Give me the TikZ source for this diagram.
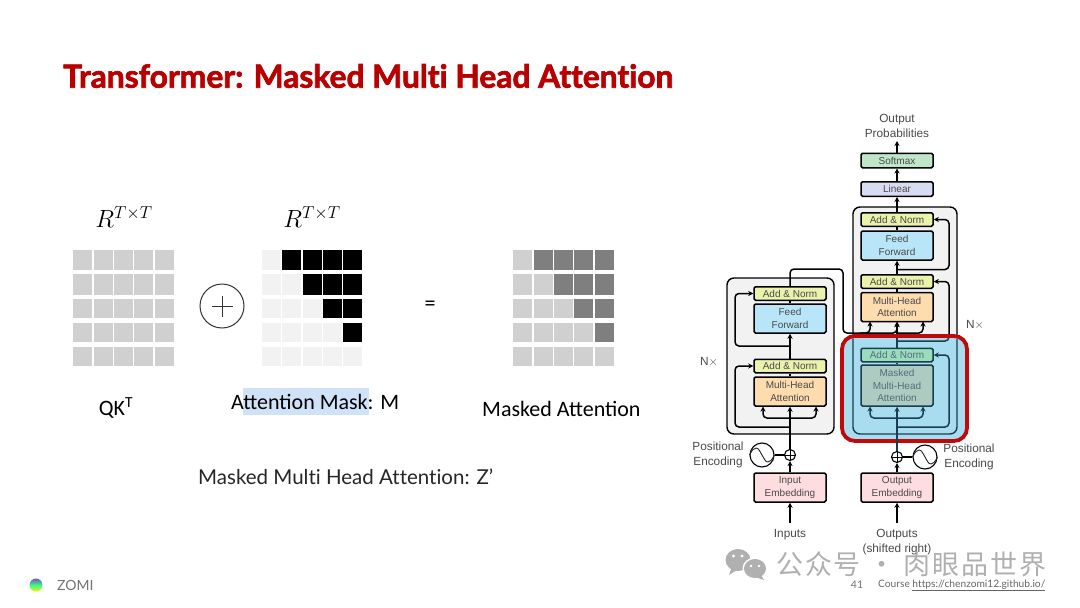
\documentclass[tikz,border=0pt]{standalone}
\usepackage{graphicx}
\usepackage{fontspec}
\setmainfont{Carlito}
\setsansfont{Liberation Sans}
\newfontfamily\titlefont[FakeBold=2.2,Ligatures=NoCommon]{Lato Bold}
\newfontfamily\gillfont[Ligatures=NoCommon]{Lato}
\newfontfamily\cjkfont[LetterSpace=7]{Noto Sans CJK SC}
\usetikzlibrary{arrows.meta,calc}
\definecolor{cellgray}{HTML}{D0D0D0}
\definecolor{celllight}{HTML}{F2F2F2}
\definecolor{celldark}{HTML}{7F7F7F}
\definecolor{titlered}{HTML}{B80000}
\definecolor{boxred}{HTML}{BE0A0A}
\definecolor{bluearea}{HTML}{A8DCEF}
\definecolor{tealine}{HTML}{173F4F}
\definecolor{txtgray}{HTML}{4A4A4A}
\definecolor{addc}{HTML}{EBF2AC}
\definecolor{ffc}{HTML}{B8E6F8}
\definecolor{mhac}{HTML}{FEDCAE}
\definecolor{softc}{HTML}{BFE6C8}
\definecolor{linc}{HTML}{D8DCF2}
\definecolor{embc}{HTML}{FDDDE0}
\definecolor{wm}{HTML}{B0B0B0}
\definecolor{hilite}{HTML}{CFE2F7}
\definecolor{maskc}{HTML}{AECBC2}
\definecolor{addmc}{HTML}{9ADCBC}
\pgfdeclarelayer{outer}\pgfdeclarelayer{lines}\pgfdeclarelayer{blue}\pgfdeclarelayer{bluelines}
\pgfsetlayers{outer,lines,blue,bluelines,main}
\tikzset{
  block/.style={draw=#1,line width=1.5pt,rounded corners=1.5pt,inner sep=0pt,minimum width=72pt,align=center,
    font=\sffamily\fontsize{10}{12.6}\selectfont,text=txtgray},
  addbox/.style={block=black,fill=addc,minimum height=13.5pt},
  ffbox/.style={block=black,fill=ffc,minimum height=29pt},
  mhabox/.style={block=black,fill=mhac,minimum height=29pt},
  softbox/.style={block=black,fill=softc,minimum height=14.5pt},
  linbox/.style={block=black,fill=linc,minimum height=14.5pt},
  embbox/.style={block=black,fill=embc,minimum height=29pt},
  lab/.style={font=\sffamily\fontsize{11.8}{15}\selectfont,text=txtgray,align=center,inner sep=0pt},
  body/.style={font=\fontsize{22}{24}\selectfont,text=black,inner sep=0pt},
  conn/.style={draw=black,line width=1.5pt,rounded corners=4pt},
  arr/.style={conn,-{Stealth[length=5pt,width=5pt]}},
  outerbox/.style={draw=black,line width=1.4pt,fill=celllight,rounded corners=7pt},
}
\newcommand{\cellgrid}[3]{%
  \foreach \ya/\yb [count=\r from 1] in {249.5/270,274/295.3,299/318.3,323.3/342.3,346.7/365.7}{
    \foreach \c in {1,...,5}{
      \pgfmathsetmacro{\xa}{#1+(\c-1)*20.33}
      \ifnum\c>\r \fill[#3] (\xa,\ya) rectangle (\xa+19,\yb);
      \else \fill[#2] (\xa,\ya) rectangle (\xa+19,\yb);\fi
    }
  }}
\newcommand{\sinewave}[1]{%
  \draw[black!85,line width=.9pt] (#1.west)
    .. controls ($(#1.center)+(-10,-5)$) and ($(#1.center)+(-8,-7)$) .. ($(#1.center)+(-6,-7)$)
    .. controls ($(#1.center)+(-3,-7)$) and ($(#1.center)+(-2,-3)$) .. (#1.center)
    .. controls ($(#1.center)+(2,3)$) and ($(#1.center)+(3,7)$) .. ($(#1.center)+(6,7)$)
    .. controls ($(#1.center)+(8,7)$) and ($(#1.center)+(10,5)$) .. (#1.east);}
\begin{document}
\begin{tikzpicture}[x=1pt,y=-1pt]
\useasboundingbox (0,0) rectangle (1080,608);
\begin{pgfonlayer}{outer}
\fill[white] (0,0) rectangle (1080,608);
\end{pgfonlayer}
% title
\node[anchor=west,inner sep=0pt,text=titlered] (title) at (63,76) {\resizebox{610pt}{!}{\titlefont\fontsize{37}{40}\selectfont Transformer: Masked Multi Head Attention}};
% matrices
\cellgrid{73.3}{cellgray}{cellgray}
\cellgrid{262}{celllight}{black}
\cellgrid{513.3}{cellgray}{celldark}
\node[inner sep=0pt,font=\fontsize{26.5}{28}\selectfont] (r1) at (124,217.5) {$R^{T\times T}$};
\node[inner sep=0pt,font=\fontsize{26.5}{28}\selectfont] (r2) at (312,217.5) {$R^{T\times T}$};
\node[circle,draw=black!80,line width=1pt,minimum size=44pt,inner sep=0pt] (oplus) at (222,306) {};
\draw[black!80,line width=1pt] ($(oplus.center)+(-10.5,0)$) -- ($(oplus.center)+(10.5,0)$) ($(oplus.center)+(0,-10.5)$) -- ($(oplus.center)+(0,10.5)$);
\node[body] (eq) at (430,306) {=};
\node[body] (qk) at (116,408) {QK\textsuperscript{T}};
\fill[hilite] (243,388) rectangle (369,415);
\node[body,anchor=west] (am) at (231,402) {Attention Mask: M};
\node[body,anchor=west] (ma) at (482,409) {Masked Attention};
\node[anchor=west,inner sep=0pt,text=black!85,font=\gillfont\fontsize{20.5}{24}\selectfont] (z) at (198,477) {Masked Multi Head Attention: Z’};
% footer
\shade[top color=violet!60!blue!70,bottom color=yellow!85!orange,middle color=green!60!cyan!80] (36,585) circle (6.5pt);
\node[anchor=west,inner sep=0pt,text=black!55,font=\gillfont\fontsize{14}{16}\selectfont] (zomi) at (57,585.5) {ZOMI};
\node[anchor=center,inner sep=0pt,text=black!55,font=\gillfont\fontsize{10.5}{12}\selectfont] (pg) at (857,585) {41};
\node[anchor=west,inner sep=0pt,text=black!60,font=\gillfont\fontsize{10.2}{12}\selectfont] (course) at (878,585.5) {Course \underline{https://chenzomi12.github.io/}};

% transformer nodes
\node[addbox] (a3) at (897,219.5) {Add \& Norm};
\node[ffbox] (f2) at (897,245.5) {Feed\\Forward};
\node[addbox] (a2) at (897,281.5) {Add \& Norm};
\node[mhabox] (m2) at (897,307) {Multi-Head\\Attention};
\node[softbox] (soft) at (897,160.5) {Softmax};
\node[linbox] (lin) at (897,189) {Linear};
\node[lab] (op) at (897,125.5) {Output\\Probabilities};
\node[addbox] (ea2) at (790,293.5) {Add \& Norm};
\node[ffbox] (ef) at (790,318.5) {Feed\\Forward};
\node[addbox] (ea1) at (790,366) {Add \& Norm};
\node[mhabox] (em) at (790,391.5) {Multi-Head\\Attention};
\node[embbox] (ie) at (790,487.5) {Input\\Embedding};
\node[embbox] (oe) at (897,487.5) {Output\\Embedding};
\node[block=tealine,fill=addmc,text=tealine!75,minimum height=13.5pt] (a1) at (897,355) {Add \& Norm};
\node[block=tealine,fill=maskc,text=tealine!75,minimum height=41pt] (mm) at (897,385.5) {Masked\\Multi-Head\\Attention};
\node[circle,draw=black,line width=1.1pt,minimum size=11pt,inner sep=0pt] (ep) at (790,455) {};
\node[circle,draw=black,line width=1.1pt,minimum size=11pt,inner sep=0pt] (dp) at (897,457) {};
\draw[black,line width=.8pt] (ep.west)--(ep.east) (ep.north)--(ep.south) (dp.west)--(dp.east) (dp.north)--(dp.south);
\node[circle,draw=black,line width=1.1pt,minimum size=24pt,inner sep=0pt] (es) at (762,455) {};
\node[circle,draw=black,line width=1.1pt,minimum size=24pt,inner sep=0pt] (ds) at (925,457) {};
\sinewave{es}
\sinewave{ds}
\node[lab] (pe1) at (718,454.5) {Positional\\Encoding};
\node[lab] (pe2) at (969,456.5) {Positional\\Encoding};
\node[lab] (nx1) at (709,362) {N$\times$};
\node[lab] (nx2) at (975,325) {N$\times$};
\node[lab] (inp) at (790,535) {Inputs};
\node[lab] (outp) at (897,542) {Outputs\\(shifted right)};
\coordinate (inS) at (790,523);
\coordinate (outS) at (897,523);

% outer boxes
\begin{pgfonlayer}{outer}
\draw[outerbox] (727,278) rectangle (834,434);
\draw[outerbox] (853,207) rectangle (957,434);
\end{pgfonlayer}

% connectors
\newcommand{\declines}[1]{%
  \draw[arr,#1] (dp.north) -- (mm.south);
  \draw[arr,#1] (897,418) -| (870,406.5);
  \draw[arr,#1] (897,418) -| (923,406.5);
  \draw[arr,#1] (897,427) -| (949,355) -- (a1.east);
  \draw[conn,#1] (mm.north) -- (a1.south);
}
\begin{pgfonlayer}{lines}
\draw[arr] (inS) -- (ie.south);
\draw[arr] (outS) -- (oe.south);
\draw[arr] (ie.north) -- (ep.south);
\draw[arr] (oe.north) -- (dp.south);
\draw[conn] (es.east) -- (ep.west);
\draw[conn] (ds.west) -- (dp.east);
\draw[arr] (ep.north) -- (em.south);
\draw[arr] (790,418) -| (763,406.5);
\draw[arr] (790,418) -| (816,406.5);
\draw[arr] (790,427) -| (735,366) -- (ea1.west);
\draw[conn] (em.north) -- (ea1.south);
\draw[arr] (ea1.north) -- (ef.south);
\draw[arr] (790,346) -| (735,293.5) -- (ea2.west);
\draw[conn] (ef.north) -- (ea2.south);
\draw[arr] (ea2.north) |- (843,269) |- (860,333) -| (870,321.5);
\draw[arr] (860,333) -| (897,321.5);
\draw[arr] (a1.north) -- (m2.south);
\draw[arr] (897,333) -| (923,321.5);
\draw[arr] (897,341) -| (949,281.5) -- (a2.east);
\draw[conn] (m2.north) -- (a2.south);
\draw[arr] (a2.north) -- (f2.south);
\draw[arr] (897,269.5) -| (949,219.5) -- (a3.east);
\draw[conn] (f2.north) -- (a3.south);
\draw[arr] (a3.north) -- (lin.south);
\draw[arr] (lin.north) -- (soft.south);
\draw[arr] (soft.north) -- (897,141);
\end{pgfonlayer}

% highlight
\begin{pgfonlayer}{blue}
\draw[draw=boxred,fill=bluearea,line width=3.8pt,rounded corners=13pt] (842,336) rectangle (967,441);
\end{pgfonlayer}
\begin{pgfonlayer}{bluelines}
\begin{scope}
\clip[rounded corners=12pt] (844,338) rectangle (965,439);
\draw[tealine,line width=1.4pt,rounded corners=7pt] (853,207) rectangle (957,434);
\draw[conn,tealine] (a1.north) -- (897,330);
\draw[conn,tealine] (897,341) -| (949,300);
\end{scope}
\declines{draw=tealine}
\end{pgfonlayer}

% watermark
\fill[wm] (738,560) ellipse (12.5pt and 11pt);
\fill[wm] (731,569) -- (729,575) -- (737,570) -- cycle;
\fill[white] (755,568.5) ellipse (12.5pt and 11pt);
\fill[wm] (755,568.5) ellipse (11pt and 9.5pt);
\fill[wm] (761,575) -- (764,580) -- (755,577) -- cycle;
\fill[white] (733.5,556) circle (1.7pt) (742,556) circle (1.7pt) (751,566) circle (1.4pt) (759,566) circle (1.4pt);
\node[anchor=west,inner sep=0pt,text=wm,font=\cjkfont\fontsize{27}{30}\selectfont] (wmtext) at (776,564.5) {公众号 · 肉眼品世界};
\end{tikzpicture}
\end{document}
